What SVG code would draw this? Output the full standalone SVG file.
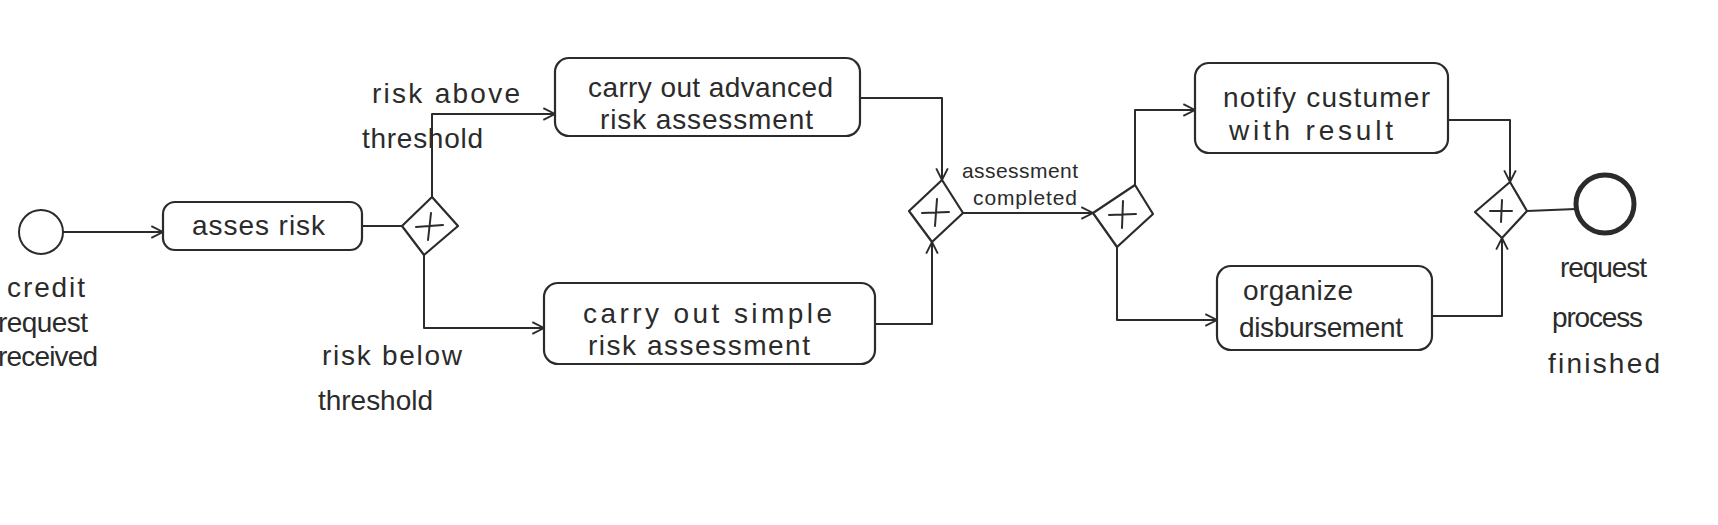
<svg xmlns="http://www.w3.org/2000/svg" width="1718" height="525" viewBox="0 0 1718 525">
<style>
.ln{fill:none;stroke:#2b2b2b;stroke-width:2;stroke-linejoin:round;stroke-linecap:round}
.box{fill:none;stroke:#2b2b2b;stroke-width:2.2}
.gw{fill:#fff;stroke:#2b2b2b;stroke-width:2.2;stroke-linejoin:round}
.t{font-family:"Liberation Sans",Arial,sans-serif;fill:#2b2b2b;font-size:28px}
.lb{font-family:"Liberation Sans",Arial,sans-serif;fill:#2b2b2b;font-size:28px}
.sm{font-family:"Liberation Sans",Arial,sans-serif;fill:#2b2b2b;font-size:21px}
</style>
<defs>
<marker id="arr" viewBox="0 0 12 12" refX="11" refY="6" markerWidth="14" markerHeight="14" markerUnits="userSpaceOnUse" orient="auto">
<path d="M1,1 L11,6 L1,11" fill="none" stroke="#2b2b2b" stroke-width="1.6"/>
</marker>
</defs>
<rect width="1718" height="525" fill="#fff"/>

<g id="connectors">
<path class="ln" d="M63,232 L163,232" marker-end="url(#arr)"/>
<path class="ln" d="M362,226 L402,226"/>
<path class="ln" d="M432,197 L432,114 L555,114" marker-end="url(#arr)"/>
<path class="ln" d="M424,255 L424,328 L544,328" marker-end="url(#arr)"/>
<path class="ln" d="M860,98 L942,98 L942,180" marker-end="url(#arr)"/>
<path class="ln" d="M875,324 L932,324 L932,242" marker-end="url(#arr)"/>
<path class="ln" d="M963,213 L1093,213" marker-end="url(#arr)"/>
<path class="ln" d="M1135,185 L1135,110 L1195,110" marker-end="url(#arr)"/>
<path class="ln" d="M1117,247 L1117,320 L1217,320" marker-end="url(#arr)"/>
<path class="ln" d="M1448,120 L1510,120 L1510,182" marker-end="url(#arr)"/>
<path class="ln" d="M1432,316 L1502,316 L1502,238" marker-end="url(#arr)"/>
<path class="ln" d="M1527,211 L1576,209"/>
</g>

<g id="start">
<circle cx="41" cy="232" r="22" fill="none" stroke="#2b2b2b" stroke-width="2"/>
<text class="lb" x="7" y="297" textLength="78" lengthAdjust="spacing">credit</text>
<text class="lb" x="-2" y="332" textLength="90" lengthAdjust="spacing">request</text>
<text class="lb" x="-2" y="366" textLength="100" lengthAdjust="spacing">received</text>
</g>

<g id="assess">
<rect class="box" x="163" y="202" width="199" height="48" rx="12"/>
<text class="t" x="192" y="235" textLength="133" lengthAdjust="spacing">asses risk</text>
</g>

<g id="gw1">
<polygon class="gw" points="432,197 458,226 424,255 402,226"/>
<path class="ln" d="M431,213 L428,240 M416,227 L443,225"/>
</g>

<g id="labels-gw1">
<text class="lb" x="372" y="103" textLength="148" lengthAdjust="spacing">risk above</text>
<text class="lb" x="362" y="148" textLength="121" lengthAdjust="spacing">threshold</text>
<text class="lb" x="322" y="365" textLength="140" lengthAdjust="spacing">risk below</text>
<text class="lb" x="318" y="410" textLength="115" lengthAdjust="spacing">threshold</text>
</g>

<g id="advanced">
<rect class="box" x="555" y="58" width="305" height="78" rx="14"/>
<text class="t" x="588" y="97" textLength="245" lengthAdjust="spacing">carry out advanced</text>
<text class="t" x="600" y="129" textLength="213" lengthAdjust="spacing">risk assessment</text>
</g>

<g id="simple">
<rect class="box" x="544" y="283" width="331" height="81" rx="14"/>
<text class="t" x="583" y="323" textLength="249" lengthAdjust="spacing">carry out simple</text>
<text class="t" x="588" y="355" textLength="222" lengthAdjust="spacing">risk assessment</text>
</g>

<g id="gw2">
<polygon class="gw" points="942,180 963,213 932,242 909,211"/>
<path class="ln" d="M937,199 L935,226 M922,213 L949,212"/>
</g>

<g id="label-assessment">
<text class="sm" x="962" y="178" textLength="116" lengthAdjust="spacing">assessment</text>
<text class="sm" x="973" y="205" textLength="104" lengthAdjust="spacing">completed</text>
</g>

<g id="gw3">
<polygon class="gw" points="1135,185 1153,214 1117,247 1093,213"/>
<path class="ln" d="M1123,201 L1122,228 M1109,215 L1136,214"/>
</g>

<g id="notify">
<rect class="box" x="1195" y="63" width="253" height="90" rx="14"/>
<text class="t" x="1223" y="107" textLength="207" lengthAdjust="spacing">notify custumer</text>
<text class="t" x="1229" y="140" textLength="164" lengthAdjust="spacing">with result</text>
</g>

<g id="organize">
<rect class="box" x="1217" y="266" width="215" height="84" rx="14"/>
<text class="t" x="1243" y="300" textLength="110" lengthAdjust="spacing">organize</text>
<text class="t" x="1239" y="337" textLength="164" lengthAdjust="spacing">disbursement</text>
</g>

<g id="gw4">
<polygon class="gw" points="1510,182 1527,211 1502,238 1475,212"/>
<path class="ln" d="M1502,200 L1501,222 M1490,211 L1512,211"/>
</g>

<g id="end">
<circle cx="1605" cy="204" r="29" fill="none" stroke="#2b2b2b" stroke-width="5"/>
<text class="lb" x="1560" y="277" textLength="87" lengthAdjust="spacing">request</text>
<text class="lb" x="1552" y="327" textLength="91" lengthAdjust="spacing">process</text>
<text class="lb" x="1548" y="373" textLength="112" lengthAdjust="spacing">finished</text>
</g>
</svg>
